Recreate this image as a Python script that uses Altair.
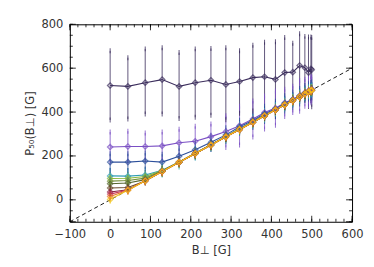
import altair as alt
import pandas as pd

# B_perp sample positions [G]
bperp = [0, 44, 87, 129, 171, 211, 250, 287, 321, 354, 383, 410, 433, 453, 470, 483, 492, 498, 500]

# median P50(B_perp) for each series [G]
s01 = [521, 517, 534, 548, 517, 534, 545, 526, 539, 557, 561, 549, 580, 582, 612, 602, 580, 597, 593]
s01_hi = [679, 648, 688, 693, 671, 688, 690, 693, 680, 705, 718, 720, 740, 714, 757, 745, 742, 742, 740]
s01_lo = [364, 368, 391, 391, 371, 376, 386, 365, 395, 405, 402, 380, 418, 445, 462, 455, 425, 450, 424]

s02 = [241, 243, 243, 246, 260, 267, 288, 311, 338, 368, 398, 418, 442, 458, 474, 488, 496, 502, 505]
s02_err = [68, 70, 62, 63, 62, 68, 58, 72, 88, 82, 75, 78, 62, 60, 70, 62, 66, 60, 55]

s03 = [172, 172, 177, 172, 199, 228, 262, 296, 333, 362, 392, 414, 439, 456, 472, 486, 494, 500, 502]
s03_err = [38, 38, 36, 36, 35, 35, 32, 32, 30, 32, 35, 35, 35, 35, 35, 35, 35, 35, 35]

s04 = [109, 108, 113, 135, 172, 212, 252, 290, 325, 357, 385, 412, 436, 455, 471, 484, 493, 499, 501]
s04_err = [26, 25, 24, 22, 22, 22, 22, 22, 22, 22, 22, 22, 22, 22, 22, 22, 22, 22, 22]

s05 = [97, 98, 106, 133, 172, 212, 251, 289, 323, 356, 384, 411, 435, 454, 471, 484, 493, 499, 501]
s05_err = [18, 18, 17, 16, 16, 16, 16, 16, 16, 16, 16, 16, 16, 16, 16, 16, 16, 16, 16]

s06 = [85, 88, 99, 131, 171, 211, 250, 288, 322, 355, 384, 411, 434, 454, 470, 483, 492, 498, 500]
s06_err = [15, 15, 14, 13, 13, 13, 13, 13, 13, 13, 13, 13, 13, 13, 13, 13, 13, 13, 13]

s07 = [73, 77, 92, 130, 171, 211, 250, 287, 321, 354, 383, 410, 433, 453, 470, 483, 492, 498, 500]
s07_err = [12, 12, 12, 11, 11, 11, 11, 11, 11, 11, 11, 11, 11, 11, 11, 11, 11, 11, 11]

s08 = [54, 56, 86, 129, 171, 211, 250, 287, 321, 354, 383, 410, 433, 453, 470, 483, 492, 498, 500]
s08_err = [10, 10, 10, 10, 10, 10, 10, 10, 10, 10, 10, 10, 10, 10, 10, 10, 10, 10, 10]

s09 = [36, 46, 87, 129, 171, 211, 250, 287, 321, 354, 383, 410, 433, 453, 470, 483, 492, 498, 500]
s09_err = [9, 9, 9, 9, 9, 9, 9, 9, 9, 9, 9, 9, 9, 9, 9, 9, 9, 9, 9]

s10 = [26, 45, 87, 129, 171, 211, 250, 287, 321, 354, 383, 410, 433, 453, 470, 483, 492, 498, 500]
s10_err = [8, 8, 8, 8, 8, 8, 8, 8, 8, 8, 8, 8, 8, 8, 8, 8, 8, 8, 8]

s11 = [15, 44, 87, 129, 171, 211, 250, 287, 321, 354, 383, 410, 433, 453, 470, 483, 492, 498, 500]
s11_err = [8, 8, 8, 8, 8, 8, 8, 8, 8, 8, 8, 8, 8, 8, 8, 8, 8, 8, 8]

s12 = [2, 44, 87, 129, 171, 211, 250, 287, 321, 354, 383, 410, 433, 453, 470, 483, 492, 498, 500]
s12_err = [8, 8, 8, 8, 8, 8, 8, 8, 8, 8, 8, 8, 8, 8, 8, 8, 8, 8, 8]

series_names = ["s01", "s02", "s03", "s04", "s05", "s06", "s07", "s08", "s09", "s10", "s11", "s12"]
series_colors = ["#3b2d5c", "#7a4fc4", "#2c4f9b", "#2f9db4", "#8cb83c", "#75903a",
                 "#55652e", "#6b4a2c", "#8e2040", "#c83a5c", "#e8782c", "#f2c418"]

# reference line y = x
ref_x = [-100, 600]
ref_y = [-100, 600]

# axis ticks
x_major = [-100, 0, 100, 200, 300, 400, 500, 600]
x_minor = list(range(-100, 601, 20))
y_labels = [0, 200, 400, 600, 800]
y_major = [-100, 0, 200, 400, 600, 800]
y_minor = list(range(-100, 801, 50))

rows = []
rows += [dict(s="s01", x=a, y=b, lo=l, hi=h) for a, b, l, h in zip(bperp, s01, s01_lo, s01_hi)]
for name, vals, errs in [("s02", s02, s02_err), ("s03", s03, s03_err), ("s04", s04, s04_err),
                         ("s05", s05, s05_err), ("s06", s06, s06_err), ("s07", s07, s07_err),
                         ("s08", s08, s08_err), ("s09", s09, s09_err), ("s10", s10, s10_err),
                         ("s11", s11, s11_err), ("s12", s12, s12_err)]:
    rows += [dict(s=name, x=a, y=b, lo=b - e, hi=b + e) for a, b, e in zip(bperp, vals, errs)]
df = pd.DataFrame(rows)

W, H = 283, 198
FONT = "DejaVu Sans"
xs = alt.Scale(domain=[-100, 600], nice=False, zero=False)
ys = alt.Scale(domain=[-100, 800], nice=False, zero=False)
cs = alt.Scale(domain=series_names, range=series_colors)

XAX = alt.Axis(title="B⊥ [G]", values=x_major, ticks=False, domain=False, grid=False,
               labelPadding=7, titlePadding=4, labelFont=FONT, titleFont=FONT,
               labelFontSize=11.5, titleFontSize=11.5, titleFontWeight="normal",
               labelColor="#333", titleColor="#333", labelFlush=False)
YAX = alt.Axis(title="P₅₀(B⊥) [G]", values=y_labels, ticks=False,
               domain=False, grid=False, labelPadding=7, titlePadding=5,
               labelFont=FONT, titleFont=FONT, labelFontSize=11.5, titleFontSize=11.5,
               titleFontWeight="normal", labelColor="#333", titleColor="#333",
               labelFlush=False)


def X(f):
    return alt.X(f, scale=xs, axis=XAX, title="B⊥ [G]")


def Y(f):
    return alt.Y(f, scale=ys, axis=YAX, title="P₅₀(B⊥) [G]")


COL = alt.Color("s:N", scale=cs, legend=None)
base = alt.Chart(df)

err = base.mark_rule(strokeWidth=1, opacity=0.8).encode(
    x=X("x:Q"), y=Y("lo:Q"), y2="hi:Q", color=COL)
cap_hi = base.mark_tick(thickness=1, size=5, opacity=0.8).encode(
    x=X("x:Q"), y=Y("hi:Q"), color=COL)
cap_lo = base.mark_tick(thickness=1, size=5, opacity=0.8).encode(
    x=X("x:Q"), y=Y("lo:Q"), color=COL)
lines = base.mark_line(strokeWidth=1.1).encode(
    x=X("x:Q"), y=Y("y:Q"), color=COL, detail="s:N")
pts = base.mark_point(shape="diamond", size=28, filled=False, strokeWidth=1.3).encode(
    x=X("x:Q"), y=Y("y:Q"), color=COL)

ref = alt.Chart(pd.DataFrame({"rx": ref_x, "ry": ref_y})).mark_line(
    color="black", strokeWidth=0.9, strokeDash=[4, 3], clip=True
).encode(x=X("rx:Q"), y=Y("ry:Q"))


def xticks(vals, length):
    d = alt.Chart(pd.DataFrame({"t": vals}))
    bot = d.mark_rule(color="black", strokeWidth=0.8).encode(
        x=X("t:Q"), y=alt.value(H), y2=alt.value(H - length))
    top = d.mark_rule(color="black", strokeWidth=0.8).encode(
        x=X("t:Q"), y=alt.value(0), y2=alt.value(length))
    return [bot, top]


def yticks(vals, length):
    d = alt.Chart(pd.DataFrame({"t": vals}))
    left = d.mark_rule(color="black", strokeWidth=0.8).encode(
        y=Y("t:Q"), x=alt.value(0), x2=alt.value(length))
    right = d.mark_rule(color="black", strokeWidth=0.8).encode(
        y=Y("t:Q"), x=alt.value(W), x2=alt.value(W - length))
    return [left, right]


tick_layers = xticks(x_major, 6) + xticks(x_minor, 3) + yticks(y_major, 6) + yticks(y_minor, 3)

chart = alt.layer(ref, err, cap_hi, cap_lo, lines, pts, *tick_layers).properties(
    width=W, height=H,
    autosize=alt.AutoSizeParams(type="none"),
    padding={"left": 62, "top": 16, "right": 14, "bottom": 40},
).configure_view(stroke="black", strokeWidth=1)

chart.save("out.html", embed_options={"renderer": "svg", "actions": False})
